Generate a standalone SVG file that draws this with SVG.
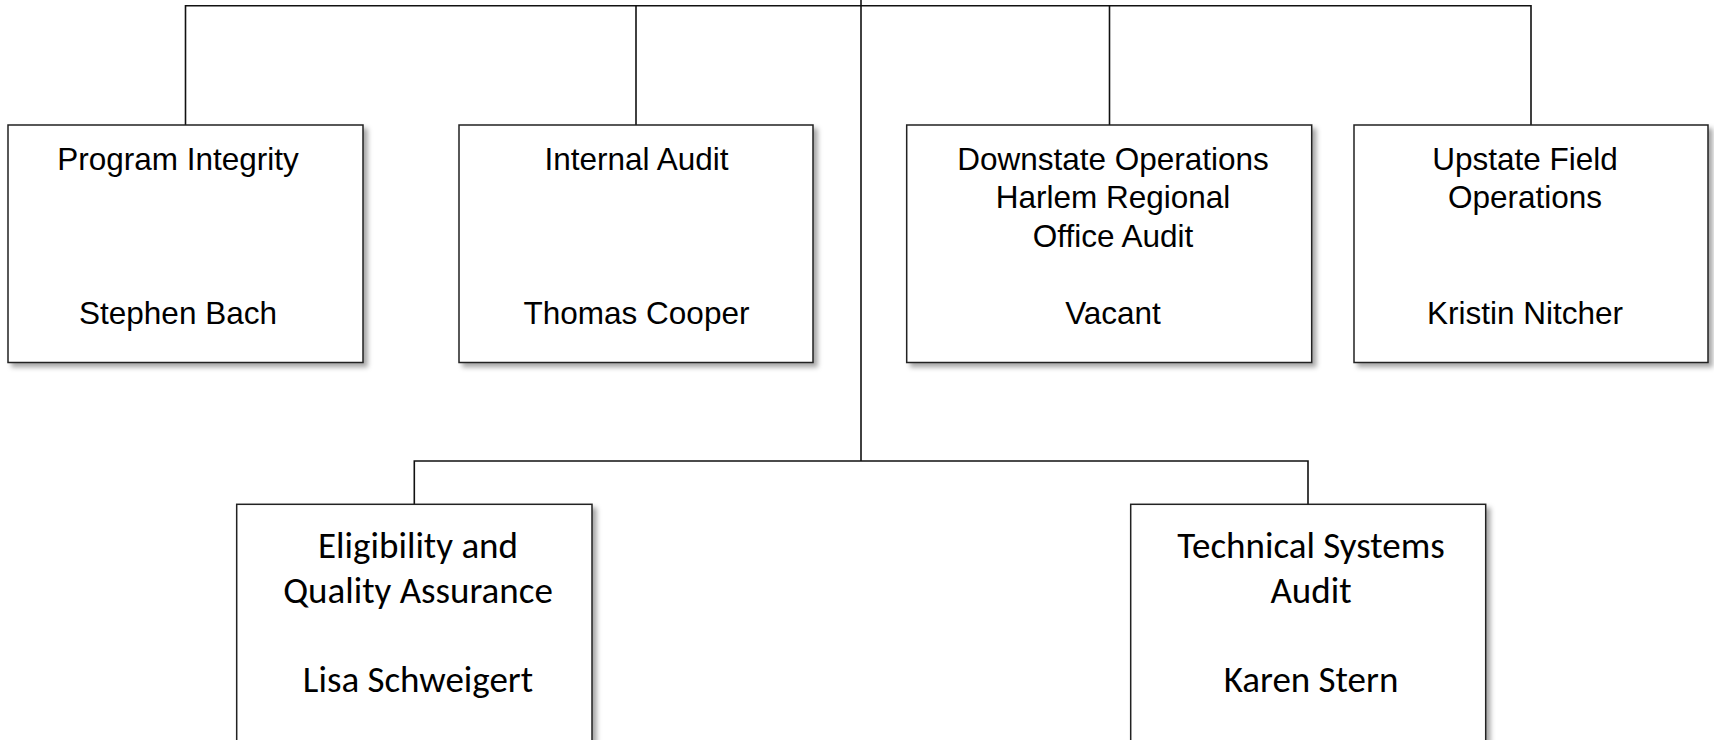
<svg xmlns="http://www.w3.org/2000/svg" width="1714" height="740" viewBox="0 0 1714 740">
<defs>
<filter id="sh" x="-10%" y="-10%" width="130%" height="130%">
<feDropShadow dx="4" dy="4" stdDeviation="2.5" flood-color="#000" flood-opacity="0.35"/>
</filter>
<style>
.box{fill:#fff;stroke:#222;stroke-width:1.5;filter:url(#sh)}
.ln{fill:none;stroke:#111;stroke-width:1.6}
.t1{font-family:"Liberation Sans",Arial,sans-serif;font-size:31.5px;fill:#000;text-anchor:middle}
.t2{font-family:Carlito,Lato,"Open Sans",sans-serif;font-size:37px;fill:#000;text-anchor:middle}
</style>
</defs>
<rect width="1714" height="740" fill="#fff"/>
<g id="connectors">
<path class="ln" d="M185.5 125 V5.7 H1531 V125"/>
<path class="ln" d="M636 5.7 V125"/>
<path class="ln" d="M1109.5 5.7 V125"/>
<path class="ln" d="M861 0 V461"/>
<path class="ln" d="M414.3 504 V461 H1308 V504"/>
</g>
<g id="program-integrity">
<rect class="box" x="8" y="125" width="355" height="237.5"/>
<text class="t1" x="178" y="170">Program Integrity</text>
<text class="t1" x="178" y="324">Stephen Bach</text>
</g>
<g id="internal-audit">
<rect class="box" x="459" y="125" width="354" height="237.5"/>
<text class="t1" x="636.5" y="170">Internal Audit</text>
<text class="t1" x="636.5" y="324">Thomas Cooper</text>
</g>
<g id="downstate-operations">
<rect class="box" x="906.7" y="125" width="405" height="237.5"/>
<text class="t1" x="1113" y="170">Downstate Operations</text>
<text class="t1" x="1113" y="208.3">Harlem Regional</text>
<text class="t1" x="1113" y="246.7">Office Audit</text>
<text class="t1" x="1113" y="324">Vacant</text>
</g>
<g id="upstate-field-operations">
<rect class="box" x="1354" y="125" width="354" height="237.5"/>
<text class="t1" x="1525" y="170">Upstate Field</text>
<text class="t1" x="1525" y="208.3">Operations</text>
<text class="t1" x="1525" y="324">Kristin Nitcher</text>
</g>
<g id="eligibility-quality-assurance">
<rect class="box" x="236.7" y="504.3" width="355.3" height="260"/>
<text class="t2" x="418" y="558.3">Eligibility and</text>
<text class="t2" x="418" y="602.7">Quality Assurance</text>
<text class="t2" x="418" y="692.3">Lisa Schweigert</text>
</g>
<g id="technical-systems-audit">
<rect class="box" x="1130.7" y="504.3" width="355" height="260"/>
<text class="t2" x="1311" y="558.3">Technical Systems</text>
<text class="t2" x="1311" y="602.7">Audit</text>
<text class="t2" x="1311" y="692.3">Karen Stern</text>
</g>
</svg>
